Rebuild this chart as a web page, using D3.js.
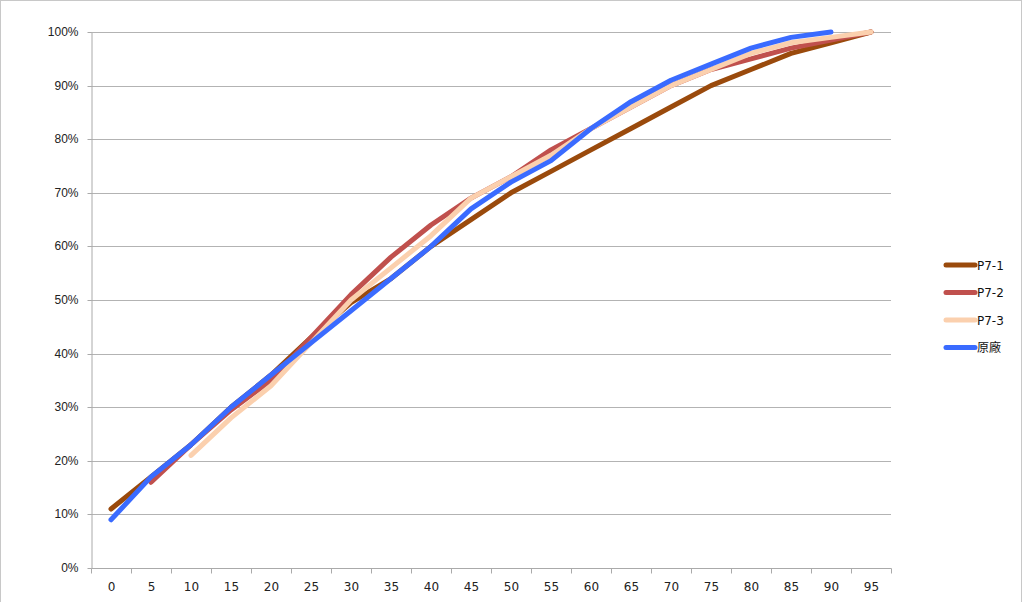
<!DOCTYPE html>
<html>
<head>
<meta charset="utf-8">
<script src="https://cdn.jsdelivr.net/npm/d3@7"></script>
<style>
  body { margin: 0; background: #fff; }
  svg { display: block; font-family: "DejaVu Sans", "Noto Sans CJK TC", sans-serif; }
  .grid line { stroke: #b3b3b3; }
  .axis path, .axis line { stroke: #aaa; }
  .axis text { fill: #222; font-size: 12px; }
</style>
</head>
<body>
<div id="chart"></div>
<script>
'use strict';

const categories = [0, 5, 10, 15, 20, 25, 30, 35, 40, 45, 50, 55, 60, 65, 70, 75, 80, 85, 90, 95];
const yTicks = [0, 10, 20, 30, 40, 50, 60, 70, 80, 90, 100];

// null = no value for that category
const p71 = [11, 17, 23, 30, 36, 43, 49.5, 54, 60, 65, 70, 74, 78, 82, 86, 90, 93, 96, 98, 100];
const p72 = [null, 16, 23, 29.5, 35, 43, 51, 58, 64, 69, 73, 78, 82, 86, 90, 93, 95, 97, 98.5, 100];
const p73 = [null, null, 21, 28, 34, 42, 50, 56, 62, 69, 73, 77, 82, 86, 90, 93, 96, 98, 99, 100];
const oem = [9, 17, 23, 30, 36, 42, 48, 54, 60, 67, 72, 76, 82, 87, 91, 94, 97, 99, 100, null];

const seriesNames = ['P7-1', 'P7-2', 'P7-3', '原廠'];
const seriesColors = ['#9a4a0c', '#c0504d', '#fbd0ae', '#3a6bff'];
const seriesValues = [p71, p72, p73, oem];

const width = 1024, height = 602;
const margin = { left: 91, right: 133, top: 32, bottom: 34 };

const $svg = d3.select('#chart').append('svg')
  .attr('width', width).attr('height', height);

$svg.append('rect')
  .attr('x', 0.5).attr('y', 0.5)
  .attr('width', 1021).attr('height', 620)
  .attr('fill', 'none').attr('stroke', '#c8c8c8');

const x = d3.scaleBand()
  .domain(categories)
  .range([margin.left, width - margin.right]);

const y = d3.scaleLinear()
  .domain([0, 100])
  .range([height - margin.bottom, margin.top]);

// gridlines
$svg.append('g').attr('class', 'grid')
  .selectAll('line')
  .data(yTicks.slice(1))
  .enter()
  .append('line')
  .attr('x1', margin.left).attr('x2', width - margin.right)
  .attr('y1', (d) => Math.round(y(d)) + 0.5)
  .attr('y2', (d) => Math.round(y(d)) + 0.5);

// y axis
const $yAxis = $svg.append('g').attr('class', 'axis')
  .attr('transform', 'translate(' + (margin.left + 0.5) + ',0.5)')
  .call(d3.axisLeft(y).tickValues(yTicks).tickFormat((d) => d + '%').tickSize(4).tickPadding(9).tickSizeOuter(0));
$yAxis.selectAll('.tick').attr('transform', (d) => 'translate(0,' + Math.round(y(d)) + ')');

// x axis: ticks on band boundaries, labels centred
const $xAxis = $svg.append('g').attr('class', 'axis')
  .attr('transform', 'translate(0.5,' + (Math.round(y(0)) + 0.5) + ')');
$xAxis.append('line')
  .attr('x1', margin.left).attr('x2', width - margin.right);
$xAxis.selectAll('.tk')
  .data(categories.concat(['end']))
  .enter()
  .append('line')
  .attr('class', 'tk')
  .attr('x1', (d, i) => Math.round(margin.left + i * x.bandwidth()))
  .attr('x2', (d, i) => Math.round(margin.left + i * x.bandwidth()))
  .attr('y1', 0).attr('y2', 5);
$xAxis.selectAll('text')
  .data(categories)
  .enter()
  .append('text')
  .attr('x', (d) => x(d) + x.bandwidth() / 2)
  .attr('y', 22)
  .attr('text-anchor', 'middle')
  .text((d) => d);

// lines
const line = d3.line()
  .defined((d) => d != null)
  .x((d, i) => x(categories[i]) + x.bandwidth() / 2)
  .y((d) => y(d));

$svg.append('g').selectAll('.series')
  .data(seriesValues)
  .enter()
  .append('path')
  .attr('class', 'series')
  .attr('fill', 'none')
  .attr('stroke', (d, i) => seriesColors[i])
  .attr('stroke-width', 5)
  .attr('stroke-linecap', 'round')
  .attr('stroke-linejoin', 'round')
  .attr('d', line);

// legend
const $legend = $svg.append('g')
  .selectAll('.legend')
  .data(seriesNames)
  .enter()
  .append('g')
  .attr('class', 'legend')
  .attr('transform', (d, i) => 'translate(946,' + (265 + i * 27.5) + ')');

$legend.append('line')
  .attr('x1', 0).attr('x2', 29)
  .attr('stroke', (d, i) => seriesColors[i])
  .attr('stroke-width', 5)
  .attr('stroke-linecap', 'round');

$legend.append('text')
  .attr('x', 31).attr('y', 4.5)
  .attr('font-size', 12)
  .attr('fill', '#111')
  .text((d) => d);
</script>
</body>
</html>
